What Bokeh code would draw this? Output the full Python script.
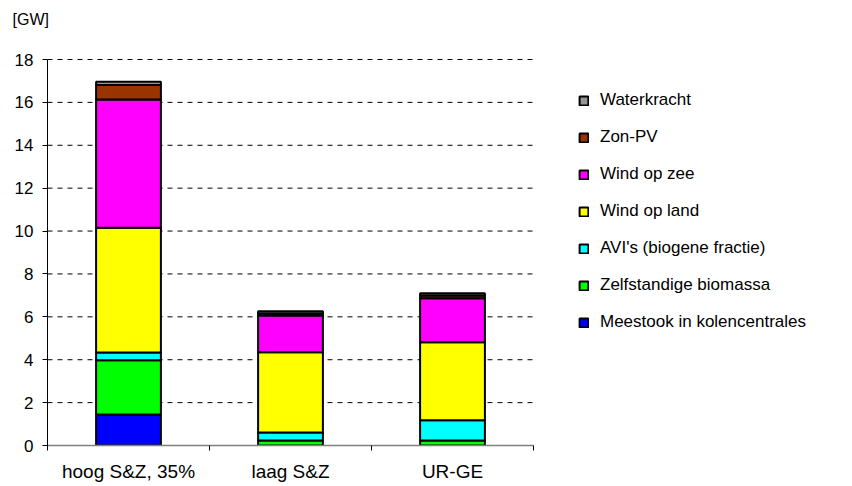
from bokeh.plotting import figure
from bokeh.models import (Range1d, FixedTicker, Legend, LegendItem, Title,
                          ColumnDataSource)
from bokeh.embed import file_html
from bokeh.resources import INLINE

categories = ["hoog S&Z, 35%", "laag S&Z", "UR-GE"]
series = ["Meestook in kolencentrales", "Zelfstandige biomassa",
          "AVI's (biogene fractie)", "Wind op land", "Wind op zee",
          "Zon-PV", "Waterkracht"]
colors = ["#0000FF", "#00FF00", "#00FFFF", "#FFFF00", "#FF00FF",
          "#993300", "#969696"]

meestook = [1.45, 0.0, 0.0]
biomassa = [2.53, 0.23, 0.23]
avi = [0.36, 0.38, 0.95]
wind_land = [5.81, 3.74, 3.64]
wind_zee = [5.99, 1.71, 2.05]
zon_pv = [0.67, 0.10, 0.12]
waterkracht = [0.15, 0.10, 0.11]

y_ticks = [0, 2, 4, 6, 8, 10, 12, 14, 16, 18]
y_max = 18

values = [meestook, biomassa, avi, wind_land, wind_zee, zon_pv, waterkracht]
ncat = len(categories)
xpos = [i + 0.5 for i in range(ncat)]

FONT = "Liberation Sans"

# layout (pixels)
W, H = 852, 486
LEFT, BOTTOM, TITLE_H = 47, 41, 35
PLOT_TOP = 59          # pixel row of the y_max gridline
CAT_PX = 162           # width of one category slot
px_per_unit = (H - BOTTOM - PLOT_TOP) / y_max
x_end = (W - LEFT) / CAT_PX
y_end = y_max + (PLOT_TOP - TITLE_H) / px_per_unit

p = figure(width=W, height=H, output_backend="svg", toolbar_location=None,
           x_range=Range1d(0, x_end), y_range=Range1d(0, y_end),
           min_border_left=LEFT, min_border_right=0, min_border_top=0,
           min_border_bottom=BOTTOM)
p.outline_line_color = None
p.background_fill_color = "white"
p.xgrid.grid_line_color = None
p.ygrid.grid_line_color = None

# dashed horizontal gridlines across the category area only
grid_y = [t for t in y_ticks if t > 0]
p.segment(x0=[0] * len(grid_y), x1=[ncat] * len(grid_y), y0=grid_y, y1=grid_y,
          line_color="black", line_width=1, line_dash="5 5")

data = {"x": xpos}
for name, vals in zip(series, values):
    data[name] = vals
src = ColumnDataSource(data)

renderers = p.vbar_stack(series, x="x", width=0.4, source=src,
                         fill_color=colors, line_color="black", line_width=2)

# x axis
p.xaxis.bounds = (0, ncat)
p.xaxis.ticker = FixedTicker(ticks=xpos, minor_ticks=list(range(ncat + 1)))
p.xaxis.major_label_overrides = {x: c for x, c in zip(xpos, categories)}
p.xaxis.major_tick_out = 0
p.xaxis.major_tick_in = 0
p.xaxis.minor_tick_out = 5
p.xaxis.minor_tick_in = 0
p.xaxis.minor_tick_line_color = "black"
p.xaxis.axis_line_color = "#808080"
p.xaxis.axis_line_width = 1.5
p.xaxis.major_label_text_font = FONT
p.xaxis.major_label_text_font_size = "19px"
p.xaxis.major_label_text_color = "black"
p.xaxis.major_label_standoff = 10

# y axis
p.yaxis.bounds = (0, y_max)
p.yaxis.ticker = FixedTicker(ticks=y_ticks)
p.yaxis.major_tick_out = 5
p.yaxis.major_tick_in = 0
p.yaxis.minor_tick_line_color = None
p.yaxis.axis_line_color = "black"
p.yaxis.major_tick_line_color = "black"
p.yaxis.major_label_text_font = FONT
p.yaxis.major_label_text_font_size = "17px"
p.yaxis.major_label_text_color = "black"
p.yaxis.major_label_standoff = 9

# unit label
p.add_layout(Title(text="[GW]", align="left", offset=-35, standoff=16,
                   text_font=FONT, text_font_size="16px",
                   text_font_style="normal", text_color="black"), "above")

items = [LegendItem(label=s, renderers=[r]) for s, r in zip(series, renderers)][::-1]
legend = Legend(items=items, location=(531, 113), orientation="vertical",
                glyph_width=11, glyph_height=11, label_height=20,
                spacing=17, padding=0, margin=0, label_standoff=11,
                border_line_color=None, background_fill_alpha=0,
                label_text_font=FONT, label_text_font_size="17px",
                label_text_color="black")
p.add_layout(legend, "center")

open("out.html", "w").write(file_html(p, INLINE))
